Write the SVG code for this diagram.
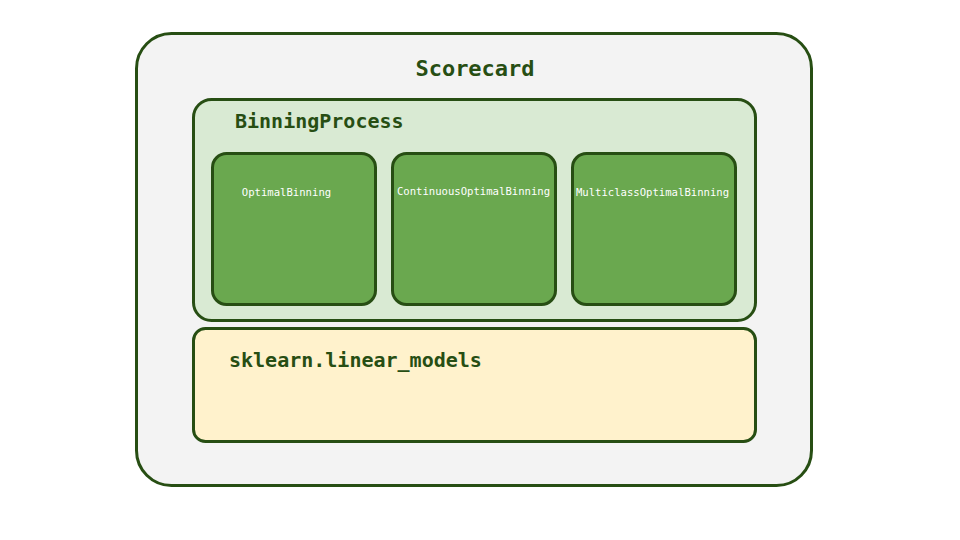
<svg xmlns="http://www.w3.org/2000/svg" width="960" height="540" viewBox="0 0 960 540">
<style>
.box{stroke:#274e13;stroke-width:3}
.t{font-family:"DejaVu Sans Mono","Liberation Mono",monospace;font-weight:bold;fill:#274e13}
.s{font-family:"DejaVu Sans Mono","Liberation Mono",monospace;fill:#ffffff;font-size:10.6px}
</style>
<rect width="960" height="540" fill="#ffffff"/>
<g id="scorecard">
<rect class="box" x="136.5" y="33.5" width="675" height="452" rx="35" fill="#f3f3f3"/>
<text class="t" x="475" y="76" font-size="22" text-anchor="middle">Scorecard</text>
</g>
<g id="binningprocess">
<rect class="box" x="193.5" y="99.5" width="562" height="221" rx="18" fill="#d9ead3"/>
<text class="t" x="235" y="128" font-size="20">BinningProcess</text>
</g>
<g id="optimalbinning">
<rect class="box" x="212.5" y="153.5" width="163" height="151" rx="14" fill="#6aa84f"/>
<text class="s" x="286.5" y="196" text-anchor="middle">OptimalBinning</text>
</g>
<g id="continuousoptimalbinning">
<rect class="box" x="392.5" y="153.5" width="163" height="151" rx="14" fill="#6aa84f"/>
<text class="s" x="473.5" y="195" text-anchor="middle">ContinuousOptimalBinning</text>
</g>
<g id="multiclassoptimalbinning">
<rect class="box" x="572.5" y="153.5" width="163" height="151" rx="14" fill="#6aa84f"/>
<text class="s" x="652.5" y="196" text-anchor="middle">MulticlassOptimalBinning</text>
</g>
<g id="linearmodels">
<rect class="box" x="193.5" y="328.5" width="562" height="113" rx="12" fill="#fff2cc"/>
<text class="t" x="229" y="367" font-size="20">sklearn.linear_models</text>
</g>
<g id="connectors"></g>
</svg>
